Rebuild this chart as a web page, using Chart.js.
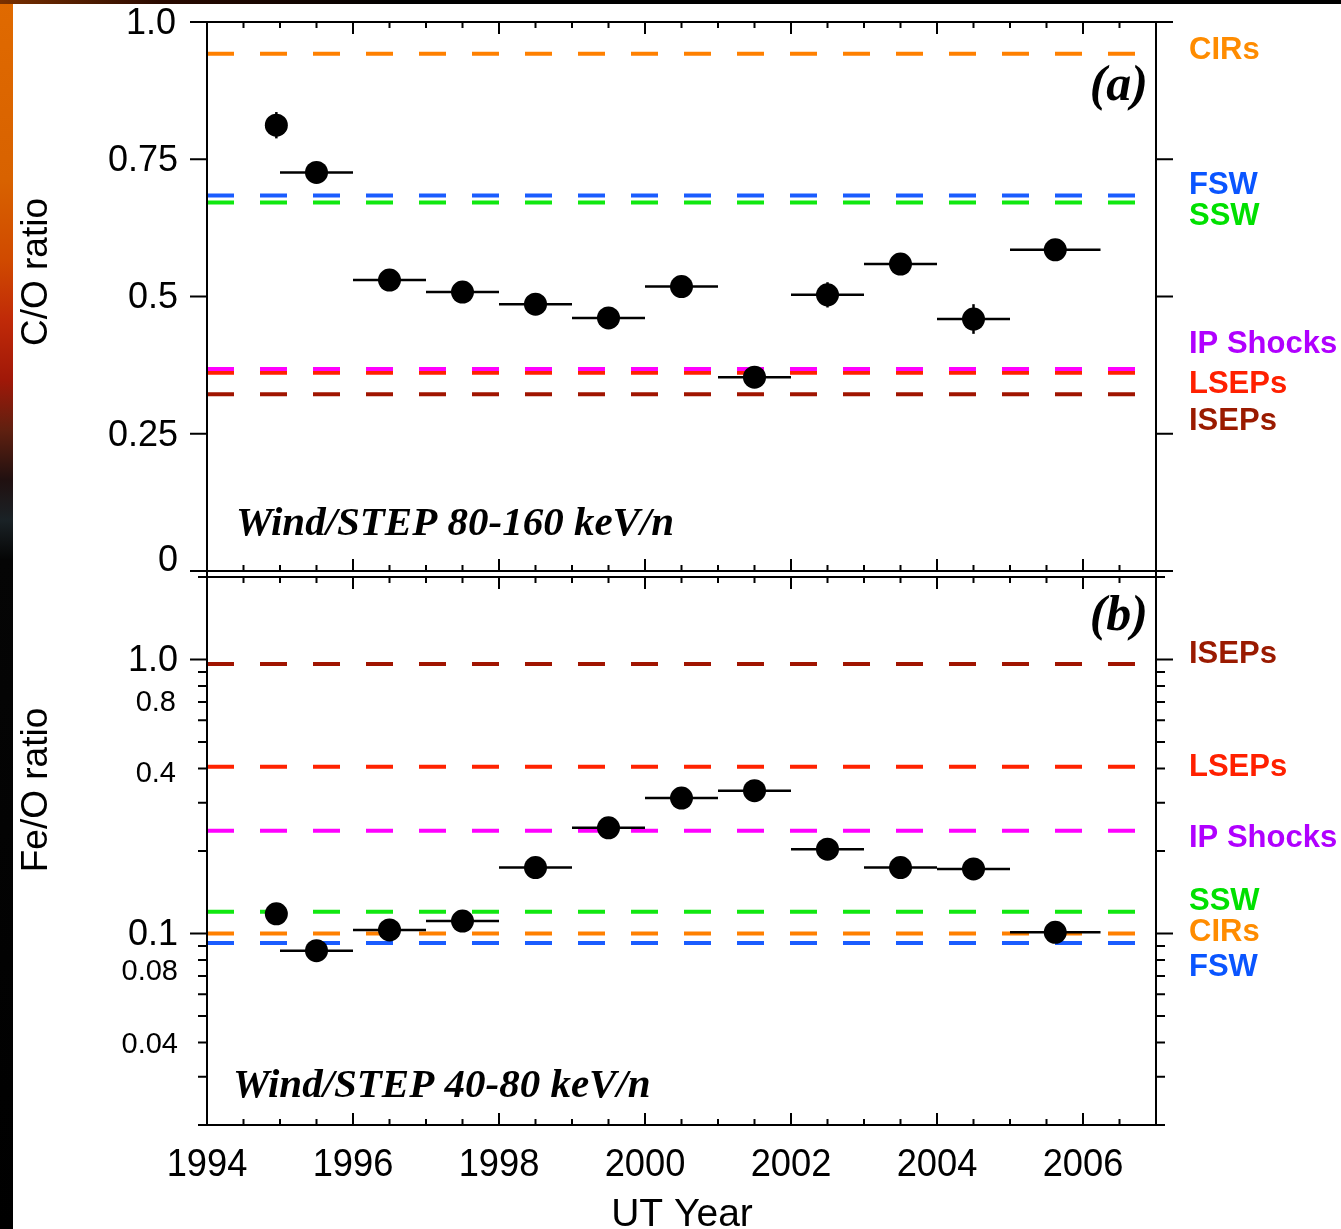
<!DOCTYPE html>
<html>
<head>
<meta charset="utf-8">
<script src="https://cdn.jsdelivr.net/npm/chart.js@4.4.1/dist/chart.umd.min.js"></script>
<style>
html,body{margin:0;padding:0;background:#fff;width:1341px;height:1229px;overflow:hidden;}
#wrap{position:relative;width:1341px;height:1229px;background:#fff;}
canvas{position:absolute;left:0;top:0;}
#strip{position:absolute;left:0;top:0;width:13px;height:1229px;
 background:linear-gradient(to bottom,#e06a00 0px,#d86200 180px,#d04a00 260px,#c02a08 320px,#a01808 380px,#602010 430px,#201010 480px,#1a2226 520px,#050505 560px,#000 1229px);}
#topband{position:absolute;left:0;top:0;width:1341px;height:4px;
 background:linear-gradient(to right,#7a3000 0px,#2a0a00 160px,#000 400px,#000 1341px);}
</style>
</head>
<body>
<div id="wrap">
<div id="strip"></div>
<div id="topband"></div>
<canvas id="cA" width="1341" height="1229"></canvas>
<canvas id="cB" width="1341" height="1229"></canvas>
</div>
<script>
// ---------------- DATA ----------------
const years    = [1994.95, 1995.5, 1996.5, 1997.5, 1998.5, 1999.5, 2000.5, 2001.5, 2002.5, 2003.5, 2004.5, 2005.62];
const binStart = [1994.95, 1995, 1996, 1997, 1998, 1999, 2000, 2001, 2002, 2003, 2004, 2005];
const binEnd   = [1994.95, 1996, 1997, 1998, 1999, 2000, 2001, 2002, 2003, 2004, 2005, 2006.24];
const coRatio  = [0.812, 0.726, 0.530, 0.508, 0.486, 0.461, 0.518, 0.353, 0.503, 0.559, 0.459, 0.585];
const coErr    = [0.024, 0.008, 0.008, 0.008, 0.008, 0.008, 0.008, 0.008, 0.023, 0.008, 0.027, 0.010];
const feRatio  = [0.118, 0.0865, 0.103, 0.111, 0.174, 0.243, 0.312, 0.332, 0.203, 0.174, 0.172, 0.101];

const populations = ['CIRs', 'FSW', 'SSW', 'IP Shocks', 'LSEPs', 'ISEPs'];
const coReference = [0.942, 0.684, 0.671, 0.368, 0.361, 0.322];
const feReference = [0.100, 0.0923, 0.120, 0.237, 0.406, 0.963];

const xMajorTicks  = [1994, 1996, 1998, 2000, 2002, 2004, 2006];
const xTickLabels  = ['1994', '1996', '1998', '2000', '2002', '2004', '2006'];
const coTickValues = [0, 0.25, 0.5, 0.75, 1.0];
const coTickLabels = ['0', '0.25', '0.5', '0.75', '1.0'];
const feMajorTicks = [0.1, 1.0];
const feMinorTicks = [0.02, 0.03, 0.04, 0.05, 0.06, 0.07, 0.08, 0.09, 0.2, 0.3, 0.4, 0.5, 0.6, 0.7, 0.8, 0.9, 2];
const feTickValues = [1.0, 0.8, 0.4, 0.1, 0.08, 0.04];
const feTickLabels = ['1.0', '0.8', '0.4', '0.1', '0.08', '0.04'];

// ---------------- STYLE / LAYOUT ----------------
const lineColors  = {'CIRs':'#ff8000','FSW':'#1a5cff','SSW':'#10e810','IP Shocks':'#ff00ff','LSEPs':'#ff2200','ISEPs':'#a01400'};
const labelColors = {'CIRs':'#ff8c00','FSW':'#0a55ff','SSW':'#00e000','IP Shocks':'#b000ff','LSEPs':'#ff2000','ISEPs':'#9a1a00'};
const coLabelY = {'CIRs':50,'FSW':185,'SSW':216,'IP Shocks':344,'LSEPs':384,'ISEPs':421};
const feLabelY = {'ISEPs':654,'LSEPs':767,'IP Shocks':838,'SSW':901,'CIRs':932,'FSW':967};
const BIG = '36px "Liberation Sans", Arial, sans-serif';
const SMALL = '29px "Liberation Sans", Arial, sans-serif';
const coLabelStyle = {fonts:[BIG, BIG, BIG, BIG, BIG], dy:[-10,2,2,2,2], right:[178,178,178,178,176]};
const feLabelStyle = {fonts:[BIG, SMALL, SMALL, BIG, SMALL, SMALL], dy:[2,17,5,2,12,2], right:[178,176,176,178,178,178]};
const SANS = '"Liberation Sans", Arial, Helvetica, sans-serif';
const SERIF = '"Liberation Serif", "Times New Roman", serif';

function refDatasets(values) {
  return populations.map((p, i) => ({
    type: 'line',
    label: p,
    data: [{x: 1994, y: values[i]}, {x: 2007, y: values[i]}],
    borderColor: lineColors[p],
    borderWidth: 4,
    borderDash: [27, 26],
    borderCapStyle: 'butt',
    pointRadius: 0,
    fill: false,
    showLine: true,
    order: 1
  }));
}

function pointsDataset(vals) {
  return {
    type: 'scatter',
    label: 'data',
    data: years.map((x, i) => ({x: x, y: vals[i]})),
    backgroundColor: '#000',
    borderColor: '#000',
    borderWidth: 0,
    pointRadius: 11.5,
    order: 0
  };
}

function panelPlugin(o) {
  return {
    id: 'panel_' + o.name,
    beforeDatasetDraw(chart, args) {
      if (args.index !== 0) return;
      const ctx = chart.ctx, xs = chart.scales.x, ys = chart.scales.y;
      ctx.save();
      ctx.strokeStyle = '#000';
      ctx.lineWidth = 2.5;
      ctx.lineCap = 'butt';
      for (let i = 0; i < years.length; i++) {
        const y = ys.getPixelForValue(o.values[i]);
        if (binEnd[i] > binStart[i]) {
          ctx.beginPath();
          ctx.moveTo(xs.getPixelForValue(binStart[i]), y);
          ctx.lineTo(xs.getPixelForValue(binEnd[i]), y);
          ctx.stroke();
        }
        if (o.errors && o.errors[i] > 0) {
          const x = xs.getPixelForValue(years[i]);
          ctx.beginPath();
          ctx.moveTo(x, ys.getPixelForValue(o.values[i] - o.errors[i]));
          ctx.lineTo(x, ys.getPixelForValue(o.values[i] + o.errors[i]));
          ctx.stroke();
        }
      }
      ctx.restore();
    },
    afterDraw(chart) {
      const ctx = chart.ctx, a = chart.chartArea, xs = chart.scales.x, ys = chart.scales.y;
      ctx.save();
      ctx.strokeStyle = '#000';
      ctx.fillStyle = '#000';
      ctx.lineWidth = 2;
      // frame
      ctx.beginPath();
      ctx.moveTo(a.left, a.top); ctx.lineTo(a.right, a.top);
      ctx.moveTo(a.left, a.bottom); ctx.lineTo(a.right, a.bottom);
      ctx.moveTo(a.left, a.top - (o.name === 'b' ? 7 : 0)); ctx.lineTo(a.left, a.bottom);
      ctx.moveTo(a.right, a.top - (o.name === 'b' ? 7 : 0)); ctx.lineTo(a.right, a.bottom);
      ctx.stroke();
      // x ticks inside (top and bottom)
      ctx.beginPath();
      for (let k = 0; k <= 26; k++) {
        const v = 1994 + k * 0.5;
        const x = xs.getPixelForValue(v);
        const len = xMajorTicks.includes(v) ? 12 : 6;
        ctx.moveTo(x, a.bottom); ctx.lineTo(x, a.bottom - len);
        ctx.moveTo(x, a.top); ctx.lineTo(x, a.top + len);
      }
      ctx.stroke();
      // y ticks outside (left and right)
      ctx.beginPath();
      o.yTicks.forEach(t => {
        const y = ys.getPixelForValue(t.v);
        ctx.moveTo(a.left, y); ctx.lineTo(a.left - t.len, y);
        ctx.moveTo(a.right, y); ctx.lineTo(a.right + t.len, y);
      });
      ctx.stroke();
      // y tick labels
      ctx.textAlign = 'right';
      ctx.textBaseline = 'middle';
      o.yLabels.forEach(t => {
        ctx.font = t.font;
        ctx.fillText(t.text, t.right, ys.getPixelForValue(t.v) + t.dy);
      });
      // axis title (rotated)
      ctx.save();
      ctx.translate(47, o.titleY);
      ctx.rotate(-Math.PI / 2);
      ctx.textAlign = 'center';
      ctx.textBaseline = 'alphabetic';
      ctx.font = '37px ' + SANS;
      ctx.fillText(o.title, 0, 0);
      ctx.restore();
      // right-hand population labels
      ctx.textAlign = 'left';
      ctx.textBaseline = 'middle';
      ctx.font = 'bold 31px ' + SANS;
      populations.forEach(p => {
        ctx.fillStyle = labelColors[p];
        ctx.fillText(p, 1189, o.labelY[p]);
      });
      // instrument text
      ctx.fillStyle = '#000';
      ctx.textBaseline = 'alphabetic';
      ctx.textAlign = 'left';
      ctx.font = 'italic bold 41px ' + SERIF;
      ctx.fillText(o.inst, o.instX, o.instY);
      // panel tag
      ctx.textAlign = 'right';
      ctx.font = 'italic bold 50px ' + SERIF;
      ctx.fillText(o.tag, 1148, o.tagY);
      // x labels
      if (o.xLabels) {
        ctx.textAlign = 'center';
        ctx.font = '39px ' + SANS;
        xMajorTicks.forEach((v, i) => {
          ctx.save();
          ctx.translate(xs.getPixelForValue(v), 1176);
          ctx.scale(0.93, 1);
          ctx.fillText(xTickLabels[i], 0, 0);
          ctx.restore();
        });
        ctx.fillText('UT Year', 682, 1226);
      }
      ctx.restore();
    }
  };
}

const common = (padding, yScale) => ({
  responsive: false,
  animation: false,
  devicePixelRatio: 1,
  events: [],
  layout: {padding: padding},
  plugins: {legend: {display: false}, tooltip: {enabled: false}},
  scales: {
    x: {type: 'linear', min: 1994, max: 2007, display: false},
    y: yScale
  }
});

// Panel (a)
new Chart(document.getElementById('cA'), {
  type: 'scatter',
  data: {datasets: [pointsDataset(coRatio)].concat(refDatasets(coReference))},
  options: common({left: 207, right: 185, top: 22, bottom: 1229 - 571},
                  {type: 'linear', min: 0, max: 1, display: false}),
  plugins: [panelPlugin({
    name: 'a', values: coRatio, errors: coErr,
    yTicks: coTickValues.map(v => ({v: v, len: 17})),
    yLabels: coTickValues.map((v, i) => ({v: v, text: coTickLabels[i], font: coLabelStyle.fonts[i], dy: coLabelStyle.dy[i], right: coLabelStyle.right[i]})),
    title: 'C/O ratio', titleY: 272,
    labelY: coLabelY,
    inst: 'Wind/STEP 80-160 keV/n', instX: 236, instY: 535,
    tag: '(a)', tagY: 100,
    xLabels: false
  })]
});

// Panel (b)
new Chart(document.getElementById('cB'), {
  type: 'scatter',
  data: {datasets: [pointsDataset(feRatio)].concat(refDatasets(feReference))},
  options: common({left: 207, right: 185, top: 577, bottom: 1229 - 1125},
                  {type: 'logarithmic', min: 0.02, max: 2, display: false}),
  plugins: [panelPlugin({
    name: 'b', values: feRatio, errors: null,
    yTicks: feMajorTicks.map(v => ({v: v, len: 17})).concat(feMinorTicks.map(v => ({v: v, len: 9}))),
    yLabels: feTickValues.map((v, i) => ({v: v, text: feTickLabels[i], font: feLabelStyle.fonts[i], dy: feLabelStyle.dy[i], right: feLabelStyle.right[i]})),
    title: 'Fe/O ratio', titleY: 790,
    labelY: feLabelY,
    inst: 'Wind/STEP 40-80 keV/n', instX: 233, instY: 1097,
    tag: '(b)', tagY: 630,
    xLabels: true
  })]
});
</script>
</body>
</html>
